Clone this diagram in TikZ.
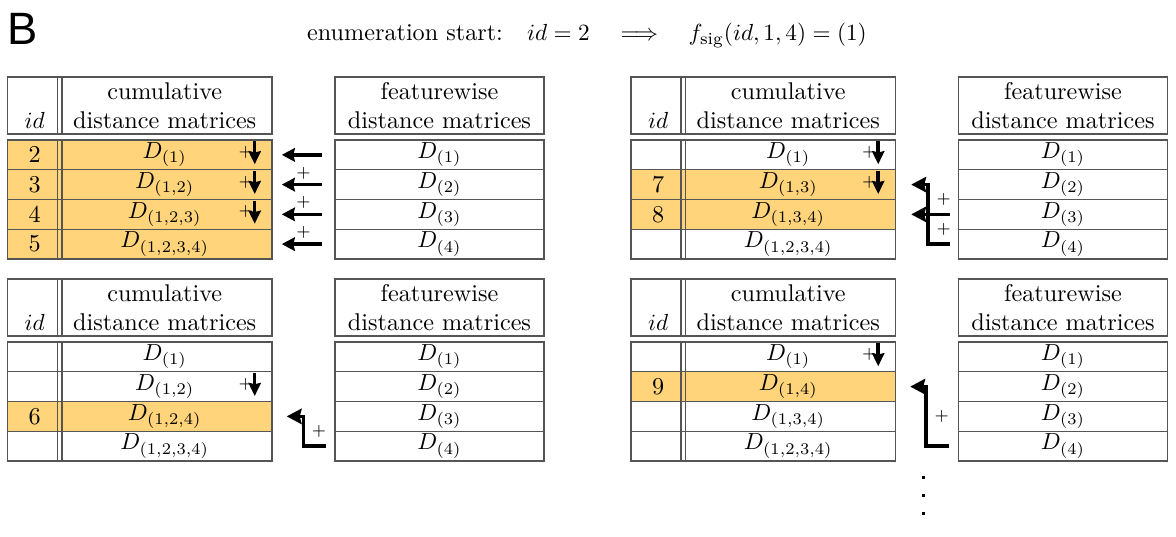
\documentclass[tikz,border=0pt]{standalone}
\usepackage{fontspec}
\newfontfamily\panelfont{Liberation Sans}
\usetikzlibrary{arrows.meta,calc,backgrounds}
\definecolor{hl}{RGB}{255,212,122}
\definecolor{bd}{RGB}{85,85,85}
\newcommand{\mkpanel}[4]{%
  \node[idcell,hdr] (#1-ih) at ({#2+34.75},{#3+105.5}) {\vphantom{cumulative}\\$id$\vphantom{distance}};
  \node[cmcell,hdr] (#1-ch) at ({#2+164.75},{#3+105.5}) {cumulative\\distance matrices};
  \node[ftcell,hdr] (#1-fh) at ({#2+439.5},{#3+105.5}) {featurewise\\distance matrices};
  \foreach \i/\id/\cm in {#4} {
    \node[idcell] (#1-i\i) at ({#2+34.75},{#3+140+(\i-0.5)*29.75}) {\id};
    \node[cmcell] (#1-c\i) at ({#2+164.75},{#3+140+(\i-0.5)*29.75}) {$D_{(\cm)}$};
    \node[ftcell] (#1-f\i) at ({#2+439.5},{#3+140+(\i-0.5)*29.75}) {$D_{(\i)}$};
  }
}
\newcommand{\plusdown}[1]{%
  \node[plus] (#1-p) at ($(#1.north east)+(-27,13)$) {+};
  \draw[dnarrow] ($(#1.north east)+(-18,2)$) -- ($(#1.north east)+(-18,25)$);
}
\newcommand{\hlrow}[2]{%
  \begin{scope}[on background layer]
    \fill[hl] (#1-i#2.north west) rectangle (#1-c#2.south east);
  \end{scope}
}
\begin{document}
\begin{tikzpicture}[x=0.43pt,y=-0.43pt,
  every node/.style={font=\fontsize{10.4}{12.5}\selectfont},
  cellbase/.style={draw=bd, line width=0.6pt, inner sep=0pt, minimum height=12.79pt},
  idcell/.style={cellbase, minimum width=23.44pt},
  cmcell/.style={cellbase, minimum width=92.24pt},
  ftcell/.style={cellbase, minimum width=89.9pt},
  hdr/.style={minimum height=24.51pt, align=center},
  conn/.style={line width=1.5pt, line join=miter, -{Stealth[length=5.6pt,width=5.8pt,inset=0.6pt]}},
  elbow/.style={line width=1.5pt, line join=miter, -{Stealth[length=6.4pt,width=6.6pt,inset=0.8pt]}},
  dnarrow/.style={line width=1.5pt, -{Stealth[length=5.6pt,width=5.2pt,inset=0.5pt]}},
  plus/.style={font=\scriptsize, inner sep=0pt},
]
\useasboundingbox (0,0) rectangle (1176,537);

\node[font=\panelfont\fontsize{19.5}{22}\selectfont, anchor=base west, inner sep=0pt] (lbl) at (7,45) {B};
\node[anchor=base, inner sep=0pt] (title) at (587,41) {enumeration start:\quad $id=2\quad\Longrightarrow\quad f_{\mathrm{sig}}(id,1,4)=(1)$};

% top-left
\mkpanel{A}{0}{0}{1/2/{1},2/3/{1,2},3/4/{1,2,3},4/5/{1,2,3,4}}
\foreach \r in {1,2,3,4} {\hlrow{A}{\r}}
\plusdown{A-c1}\plusdown{A-c2}\plusdown{A-c3}
\draw[conn, shorten <=5.2pt, shorten >=3.9pt] (A-f1.west) -- (A-c1.east);
\foreach \r in {2,3,4} {
  \draw[conn, shorten <=5.2pt, shorten >=3.9pt] (A-f\r.west) -- node[plus, above=1.6pt] (A-a\r) {+} (A-c\r.east);
}

% top-right
\mkpanel{C}{623.5}{0}{1/{}/{1},2/7/{1,3},3/8/{1,3,4},4/{}/{1,2,3,4}}
\hlrow{C}{2}\hlrow{C}{3}
\plusdown{C-c1}\plusdown{C-c2}
\draw[elbow] ($(C-f3.west)+(-8,0)$) -- ++(-22,0) |- node[plus, pos=0.25, right=3pt] (C-a3) {+} ($(C-c2.east)+(15,0)$);
\draw[elbow] ($(C-f4.west)+(-8,0)$) -- ++(-22,0) |- node[plus, pos=0.25, right=3pt] (C-a4) {+} ($(C-c3.east)+(15,0)$);

% bottom-left
\mkpanel{B}{0}{202}{1/{}/{1},2/{}/{1,2},3/6/{1,2,4},4/{}/{1,2,3,4}}
\hlrow{B}{3}
\plusdown{B-c2}
\draw[elbow] ($(B-f4.west)+(-8,0)$) -- ++(-23,0) |- node[plus, pos=0.25, right=3pt] (B-a4) {+} ($(B-c3.east)+(14,0)$);

% bottom-right
\mkpanel{D}{623.5}{202}{1/{}/{1},2/9/{1,4},3/{}/{1,3,4},4/{}/{1,2,3,4}}
\hlrow{D}{2}
\plusdown{D-c1}
\draw[elbow] ($(D-f4.west)+(-9,0)$) -- ++(-23,0) |- node[plus, pos=0.25, right=3pt] (D-a4) {+} ($(D-c2.east)+(14,0)$);

% continuation dots
\foreach \yy in {476,494,512} {\fill (921.5,\yy) rectangle ++(3.2,3.2);}
\end{tikzpicture}
\end{document}
